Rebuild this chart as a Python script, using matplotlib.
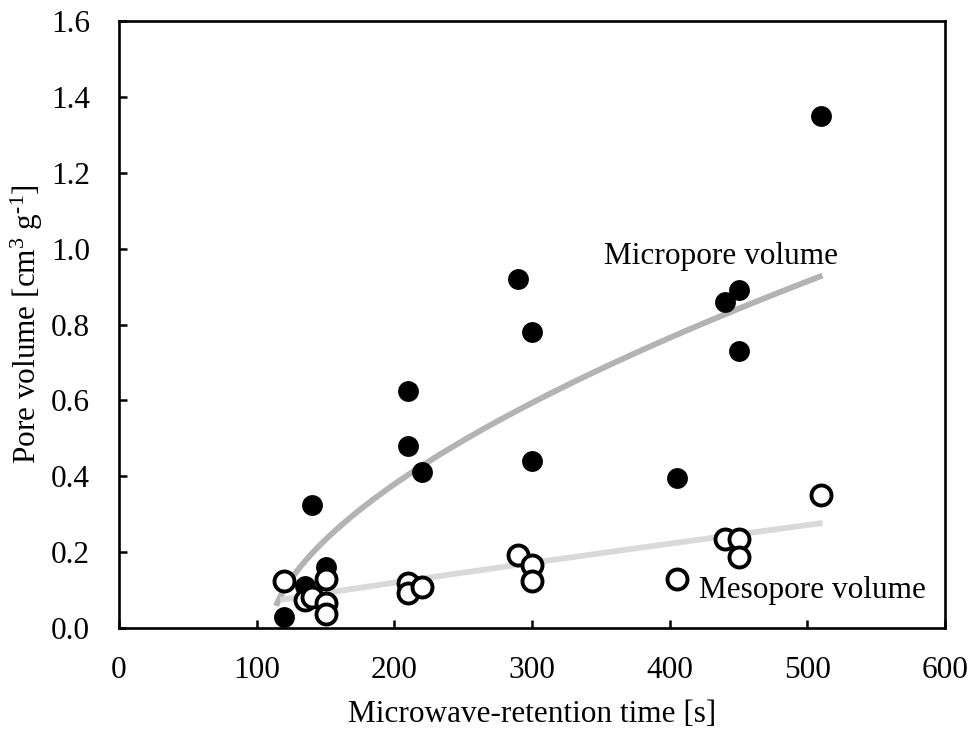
import matplotlib

matplotlib.use("Agg")

import numpy as np
import matplotlib.pyplot as plt

# data
micro_time = [120, 135, 140, 150, 210, 210, 220, 290, 300, 300, 405, 440, 450, 450, 510]
micro_vol = [0.03, 0.11, 0.325, 0.16, 0.625, 0.48, 0.41, 0.92, 0.78, 0.44, 0.395, 0.86, 0.89, 0.73, 1.35]

meso_time = [120, 135, 140, 150, 150, 150, 210, 210, 220, 290, 300, 300, 405, 440, 450, 450, 510]
meso_vol = [0.125, 0.073, 0.082, 0.13, 0.065, 0.037, 0.118, 0.093, 0.108, 0.192, 0.165, 0.125, 0.13, 0.235, 0.235, 0.187, 0.35]

# trend curves (model parameters)
micro_fit = dict(a=0.02548, x0=110.0, b=0.6, x_start=114, x_end=511)
meso_fit = dict(a=0.074, xref=117.0, b=0.895, x_start=117, x_end=511)

x_ticks = [0, 100, 200, 300, 400, 500, 600]
y_ticks = [0.0, 0.2, 0.4, 0.6, 0.8, 1.0, 1.2, 1.4, 1.6]

plt.rcParams["font.family"] = ["Liberation Serif", "DejaVu Serif"]
plt.rcParams["mathtext.fontset"] = "custom"
plt.rcParams["mathtext.rm"] = "Liberation Serif"
plt.rcParams["mathtext.it"] = "Liberation Serif:italic"

FS = 22.5

fig = plt.figure(figsize=(9.78, 7.3), dpi=100)
ax = fig.add_axes([0.1217, 0.1397, 0.8446, 0.8315])

xm = np.linspace(micro_fit["x_start"], micro_fit["x_end"], 200)
ym = micro_fit["a"] * (xm - micro_fit["x0"]) ** micro_fit["b"]
ax.plot(xm, ym, color="#b3b3b3", linewidth=4.2, solid_capstyle="butt", zorder=1)

xs = np.linspace(meso_fit["x_start"], meso_fit["x_end"], 200)
ys = meso_fit["a"] * (xs / meso_fit["xref"]) ** meso_fit["b"]
ax.plot(xs, ys, color="#d9d9d9", linewidth=4.2, solid_capstyle="butt", zorder=1)

ax.plot(micro_time, micro_vol, "o", color="black", markersize=15, markeredgewidth=0, zorder=3)
ax.plot(meso_time, meso_vol, "o", markerfacecolor="white", markeredgecolor="black",
        markersize=14.4, markeredgewidth=2.8, zorder=4)

ax.text(352, 0.978, "Micropore volume", ha="left", va="center", fontsize=FS)
ax.text(421, 0.10, "Mesopore volume", ha="left", va="center", fontsize=FS)

ax.set_xlim(0, 600)
ax.set_ylim(0, 1.6)
ax.set_xticks(x_ticks)
ax.set_yticks(y_ticks)
ax.set_yticklabels([f"{v:.1f}" for v in y_ticks])
ax.tick_params(direction="in", length=6, width=1.8, labelsize=FS)
ax.tick_params(axis="x", pad=20)
ax.tick_params(axis="y", pad=21)
for sp in ax.spines.values():
    sp.set_linewidth(1.9)

ax.set_xlabel("Microwave-retention time [s]", fontsize=FS, labelpad=11)
ax.set_ylabel("Pore volume [cm$^{3}$ g$^{\\text{-}1}$]", fontsize=FS, labelpad=4)

fig.savefig("out.png", dpi=100)
